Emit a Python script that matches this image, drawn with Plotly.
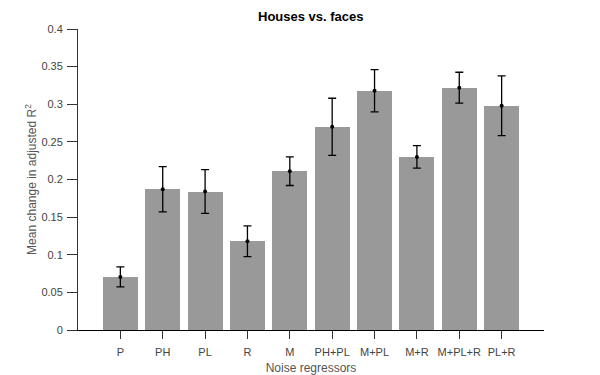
import plotly.graph_objects as go

categories = ["P", "PH", "PL", "R", "M", "PH+PL", "M+PL", "M+R", "M+PL+R", "PL+R"]
means = [0.0705, 0.187, 0.184, 0.118, 0.211, 0.270, 0.318, 0.230, 0.322, 0.298]
errors = [0.0133, 0.030, 0.029, 0.0205, 0.019, 0.038, 0.028, 0.015, 0.0205, 0.0397]
yticks = [0, 0.05, 0.1, 0.15, 0.2, 0.25, 0.3, 0.35, 0.4]
yticklabels = ["0", "0.05", "0.1", "0.15", "0.2", "0.25", "0.3", "0.35", "0.4"]

fig = go.Figure()
fig.add_trace(go.Bar(
    x=categories, y=means, width=0.83,
    marker=dict(color="#999999", line=dict(width=0)),
    showlegend=False,
))
fig.add_trace(go.Scatter(
    x=categories, y=means, mode="markers",
    marker=dict(color="black", size=4),
    error_y=dict(type="data", array=errors, color="black", thickness=1.3, width=4),
    showlegend=False,
))

font = "Liberation Sans, Arial, sans-serif"
fig.update_layout(
    width=600, height=375,
    margin=dict(l=78, r=56, t=29, b=45, autoexpand=False),
    plot_bgcolor="white", paper_bgcolor="white",
    bargap=0,
    title=dict(text="<b>Houses vs. faces</b>", x=0.518, xanchor="center",
               y=0.955, yanchor="middle", font=dict(family=font, size=13, color="black")),
    xaxis=dict(
        range=[-1, 10], showline=True, linecolor="black", linewidth=1,
        ticks="outside", ticklen=8, tickcolor="#333333", automargin=False,
        ticklabelstandoff=4,
        tickfont=dict(family=font, size=11, color="#444444"),
        title=dict(text="Noise regressors", font=dict(family=font, size=12, color="#555555"), standoff=8),
        showgrid=False, zeroline=False,
    ),
    yaxis=dict(
        range=[0, 0.4], showline=True, linecolor="#333333", linewidth=1,
        ticks="outside", ticklen=10, tickcolor="#333333", automargin=False,
        ticklabelstandoff=2,
        tickvals=yticks, ticktext=yticklabels,
        tickfont=dict(family=font, size=11, color="#444444"),
        title=dict(text="Mean change in adjusted R<sup>2</sup>", font=dict(family=font, size=12, color="#555555"), standoff=2),
        showgrid=False, zeroline=False,
    ),
)

fig.write_html("out.html", config={"displayModeBar": False},
               post_script="document.body.style.margin='0';document.body.style.overflow='hidden';")
